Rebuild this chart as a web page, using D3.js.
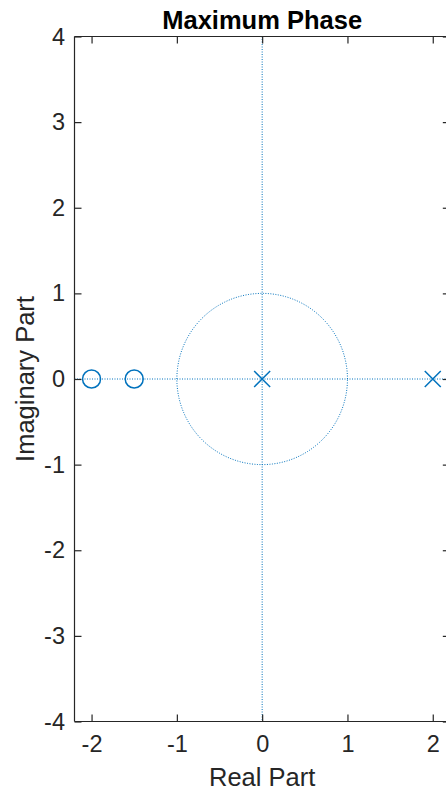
<!DOCTYPE html>
<html><head><meta charset="utf-8">
<script src="https://cdn.jsdelivr.net/npm/d3@7"></script>
<style>body{margin:0;background:#fff}svg{display:block}</style>
</head><body>
<script>
const zerosRe = [-2, -1.5];
const zerosIm = [0, 0];
const polesRe = [0, 2];
const polesIm = [0, 0];
const xTicks = [-2, -1, 0, 1, 2];
const yTicks = [-4, -3, -2, -1, 0, 1, 2, 3, 4];
const xDomain = [-2.2, 2.2];
const yDomain = [-4, 4];

const W = 446, H = 795;
const m = {l: 74.5, t: 36.5, b: 721.5};
const svg = d3.select("body").append("svg").attr("width", W).attr("height", H);
const x = d3.scaleLinear().domain(xDomain).range([m.l, m.l + 85.3 * 4.4]);
const y = d3.scaleLinear().domain(yDomain).range([m.b, m.t]);
const blue = "#0072BD", ax = "#262626", font = "Liberation Sans, Arial, sans-serif";
const fmt = d => String(d);

// dotted reference lines
const g = svg.append("g");
g.append("line").attr("x1", x(0)).attr("x2", x(0)).attr("y1", y(4)).attr("y2", y(-4))
  .attr("stroke", blue).attr("stroke-width", 1).attr("stroke-dasharray", "1,1.5");
g.append("line").attr("x1", x(xDomain[0])).attr("x2", x(xDomain[1])).attr("y1", y(0)).attr("y2", y(0))
  .attr("stroke", blue).attr("stroke-width", 1).attr("stroke-dasharray", "1,1.5");
const circ = d3.range(0, 361, 1).map(a => [Math.cos(a * Math.PI / 180), Math.sin(a * Math.PI / 180)]);
g.append("path").attr("d", d3.line().x(d => x(d[0])).y(d => y(d[1]))(circ))
  .attr("fill", "none").attr("stroke", blue).attr("stroke-width", 1).attr("stroke-dasharray", "1,1.5");

// axes
const xa = svg.append("g").attr("transform", `translate(0,${m.b})`)
  .call(d3.axisBottom(x).tickValues(xTicks).tickSize(-7).tickPadding(14).tickFormat(fmt));
const xt = svg.append("g").attr("transform", `translate(0,${m.t})`)
  .call(d3.axisTop(x).tickValues(xTicks).tickSize(-7).tickFormat(""));
const ya = svg.append("g").attr("transform", `translate(${m.l},0)`)
  .call(d3.axisLeft(y).tickValues(yTicks).tickSize(-7).tickPadding(9.5).tickFormat(fmt));
const yr = svg.append("g").attr("transform", `translate(${x(xDomain[1])},0)`)
  .call(d3.axisRight(y).tickValues(yTicks).tickSize(-7).tickFormat(""));
[xa, xt, ya, yr].forEach(a => {
  a.select(".domain").attr("stroke", ax).attr("stroke-width", 1.2);
  a.selectAll(".tick line").attr("stroke", ax).attr("stroke-width", 1.2);
  a.selectAll("text").attr("fill", ax).style("font-family", font).style("font-size", "23.5px");
});
xa.selectAll(".domain").attr("d", `M${x(xDomain[0])},0H${x(xDomain[1])}`);
xt.selectAll(".domain").attr("d", `M${x(xDomain[0])},0H${x(xDomain[1])}`);
ya.selectAll(".domain").attr("d", `M0,${y(4)}V${y(-4)}`);
yr.selectAll(".domain").attr("d", `M0,${y(4)}V${y(-4)}`);

// zeros
svg.append("g").selectAll("circle").data(zerosRe).join("circle")
  .attr("cx", d => x(d)).attr("cy", (d, i) => y(zerosIm[i])).attr("r", 9)
  .attr("fill", "none").attr("stroke", blue).attr("stroke-width", 1.5);
// poles
const s = 8;
svg.append("g").selectAll("path").data(polesRe).join("path")
  .attr("d", (d, i) => { const cx = x(d), cy = y(polesIm[i]);
    return `M${cx - s},${cy - s}L${cx + s},${cy + s}M${cx - s},${cy + s}L${cx + s},${cy - s}`; })
  .attr("stroke", blue).attr("stroke-width", 1.5).attr("fill", "none");

// labels
svg.append("text").attr("x", x(0)).attr("y", 29).attr("text-anchor", "middle")
  .style("font-family", font).style("font-size", "25.5px").style("font-weight", "bold").attr("fill", "#000")
  .text("Maximum Phase");
svg.append("text").attr("x", x(0)).attr("y", 786).attr("text-anchor", "middle")
  .style("font-family", font).style("font-size", "25.5px").attr("fill", ax).text("Real Part");
svg.append("text").attr("transform", `translate(34,${y(0)}) rotate(-90)`).attr("text-anchor", "middle")
  .style("font-family", font).style("font-size", "25.5px").attr("fill", ax).text("Imaginary Part");
</script>
</body></html>
